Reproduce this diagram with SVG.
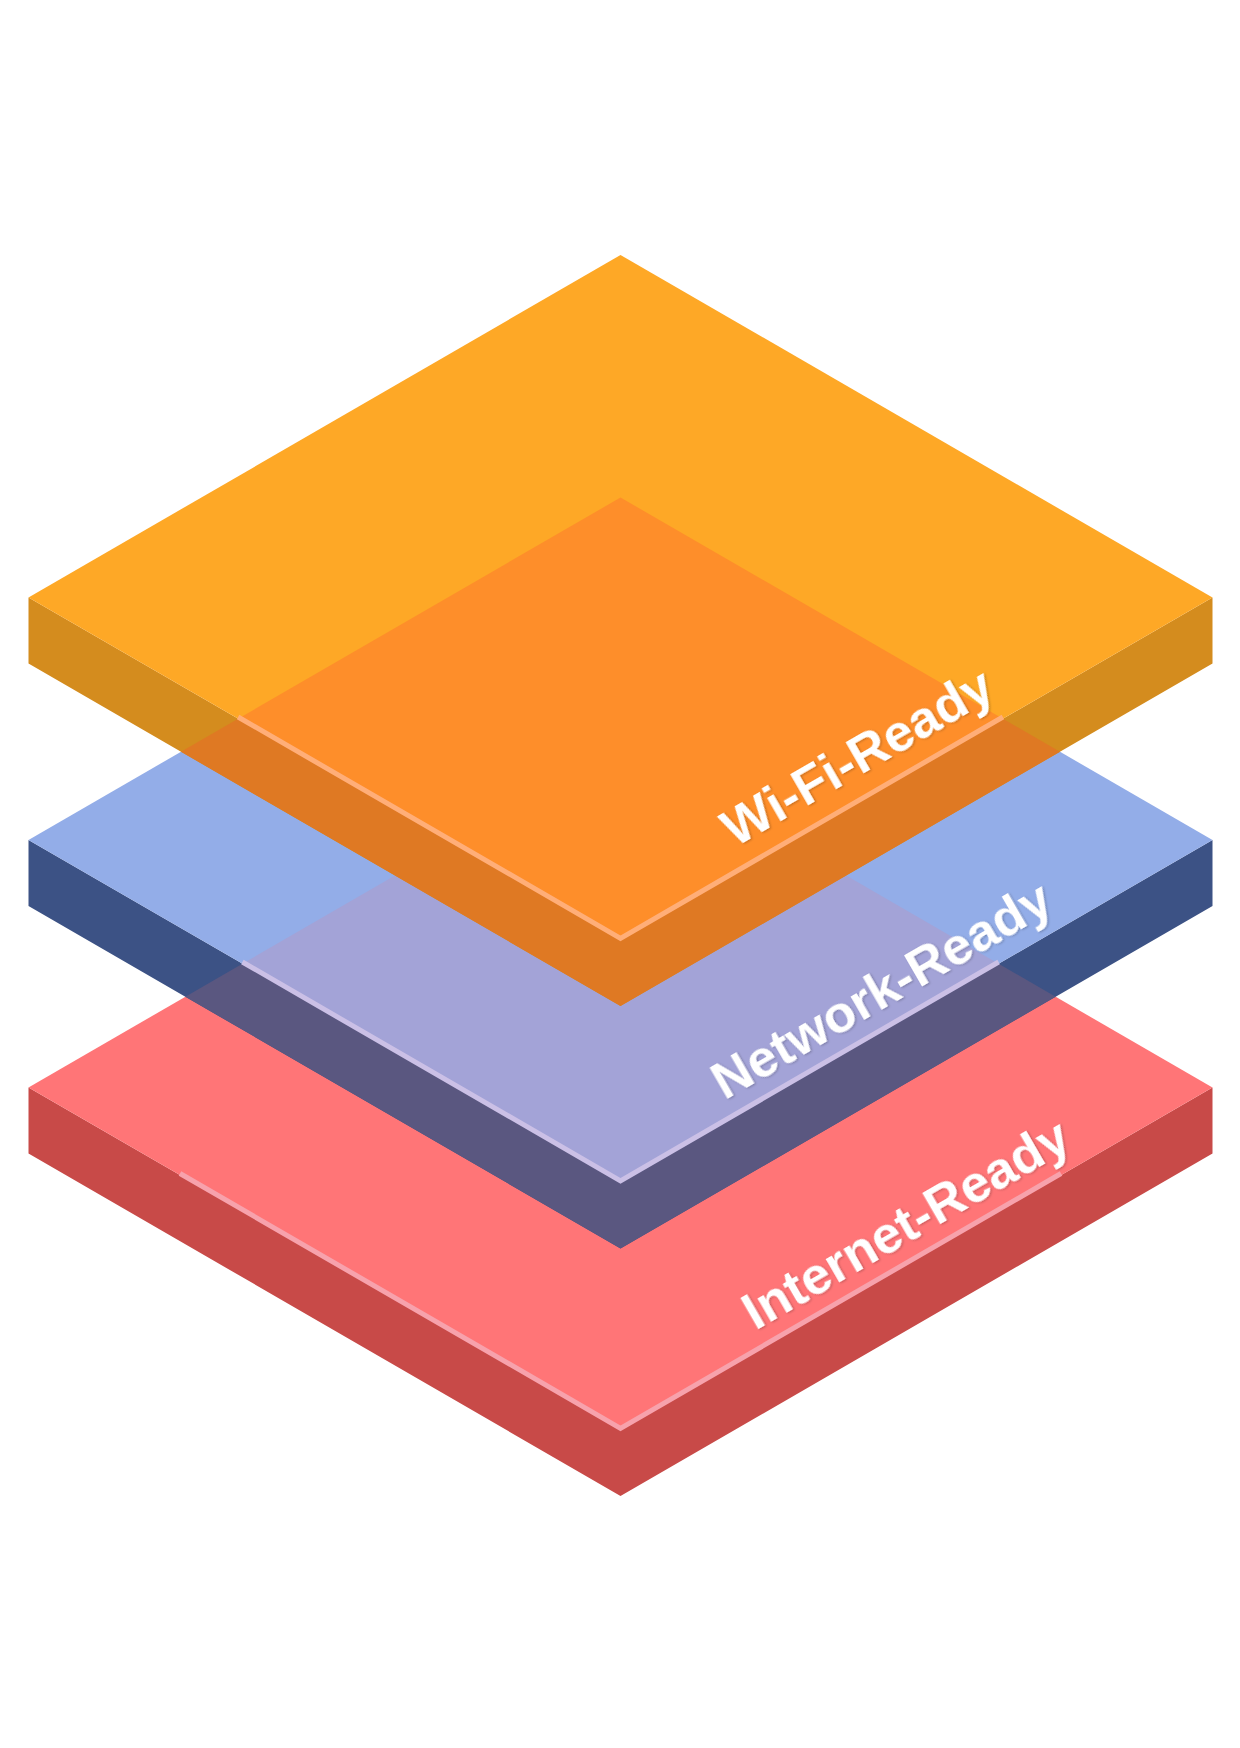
<svg xmlns="http://www.w3.org/2000/svg" width="1240" height="1748" viewBox="0 0 1240 1748">
  <defs>
    <style>
      .label { font-family: "Liberation Sans", Arial, sans-serif; font-weight: bold; font-size: 52.5px; fill: #ffffff; text-anchor: middle; }
      .hl { fill: none; stroke-width: 5; stroke-linejoin: miter; }
    </style>
    <filter id="shadow" x="-10%" y="-30%" width="120%" height="160%">
      <feDropShadow dx="1" dy="1.2" stdDeviation="0.8" flood-color="#000000" flood-opacity="0.25"/>
    </filter>
  </defs>
  <rect width="1240" height="1748" fill="#ffffff"/>

  <g id="layer-internet">
    <polygon points="28.5,1087.5 620.5,1430 1212.5,1087.5 1212.5,1153.5 620.5,1496 28.5,1153.5" fill="#C84A48"/>
    <polygon points="620.5,745 1212.5,1087.5 620.5,1430 28.5,1087.5" fill="#FF7577"/>
    <polyline class="hl" points="180,1173.5 620.5,1428.3 1061,1173.5" stroke="#F7A2AC"/>
    <text class="label" filter="url(#shadow)" transform="translate(914.5,1239) rotate(-30)">Internet-Ready</text>
  </g>

  <g id="layer-network">
    <polygon points="28.5,840 620.5,1182.5 1212.5,840 1212.5,906 620.5,1248.5 28.5,906" fill="#3C5285"/>
    <polygon points="620.5,497.5 1212.5,840 620.5,1182.5 28.5,840" fill="#93ADE8"/>
    <polygon points="242.4,963.75 620.5,1182.5 998.6,963.75 1055.6,996.75 620.5,1248.5 185.4,996.75" fill="#5A5780"/>
    <polygon points="620.5,745 998.6,963.75 620.5,1182.5 242.4,963.75" fill="#A3A3D7"/>
    <polyline class="hl" points="242.4,962 620.5,1180.8 998.6,962" stroke="#CBC0E6"/>
    <text class="label" filter="url(#shadow)" transform="translate(890,1005) rotate(-30)">Network-Ready</text>
  </g>

  <g id="layer-wifi">
    <polygon points="28.5,597.5 620.5,940 1212.5,597.5 1212.5,663.5 620.5,1006 28.5,663.5" fill="#D48C1E"/>
    <polygon points="620.5,255 1212.5,597.5 620.5,940 28.5,597.5" fill="#FEA826"/>
    <polygon points="238.1,718.75 620.5,940 1002.9,718.75 1060,751.75 620.5,1006 181,751.75" fill="#DF7923"/>
    <polygon points="620.5,497.5 1002.9,718.75 620.5,940 238.1,718.75" fill="#FE8E2A"/>
    <polyline class="hl" points="238.1,717 620.5,938.3 1002.9,717" stroke="#FFAE78"/>
    <text class="label" filter="url(#shadow)" transform="translate(866,772) rotate(-30)">Wi-Fi-Ready</text>
  </g>
</svg>
